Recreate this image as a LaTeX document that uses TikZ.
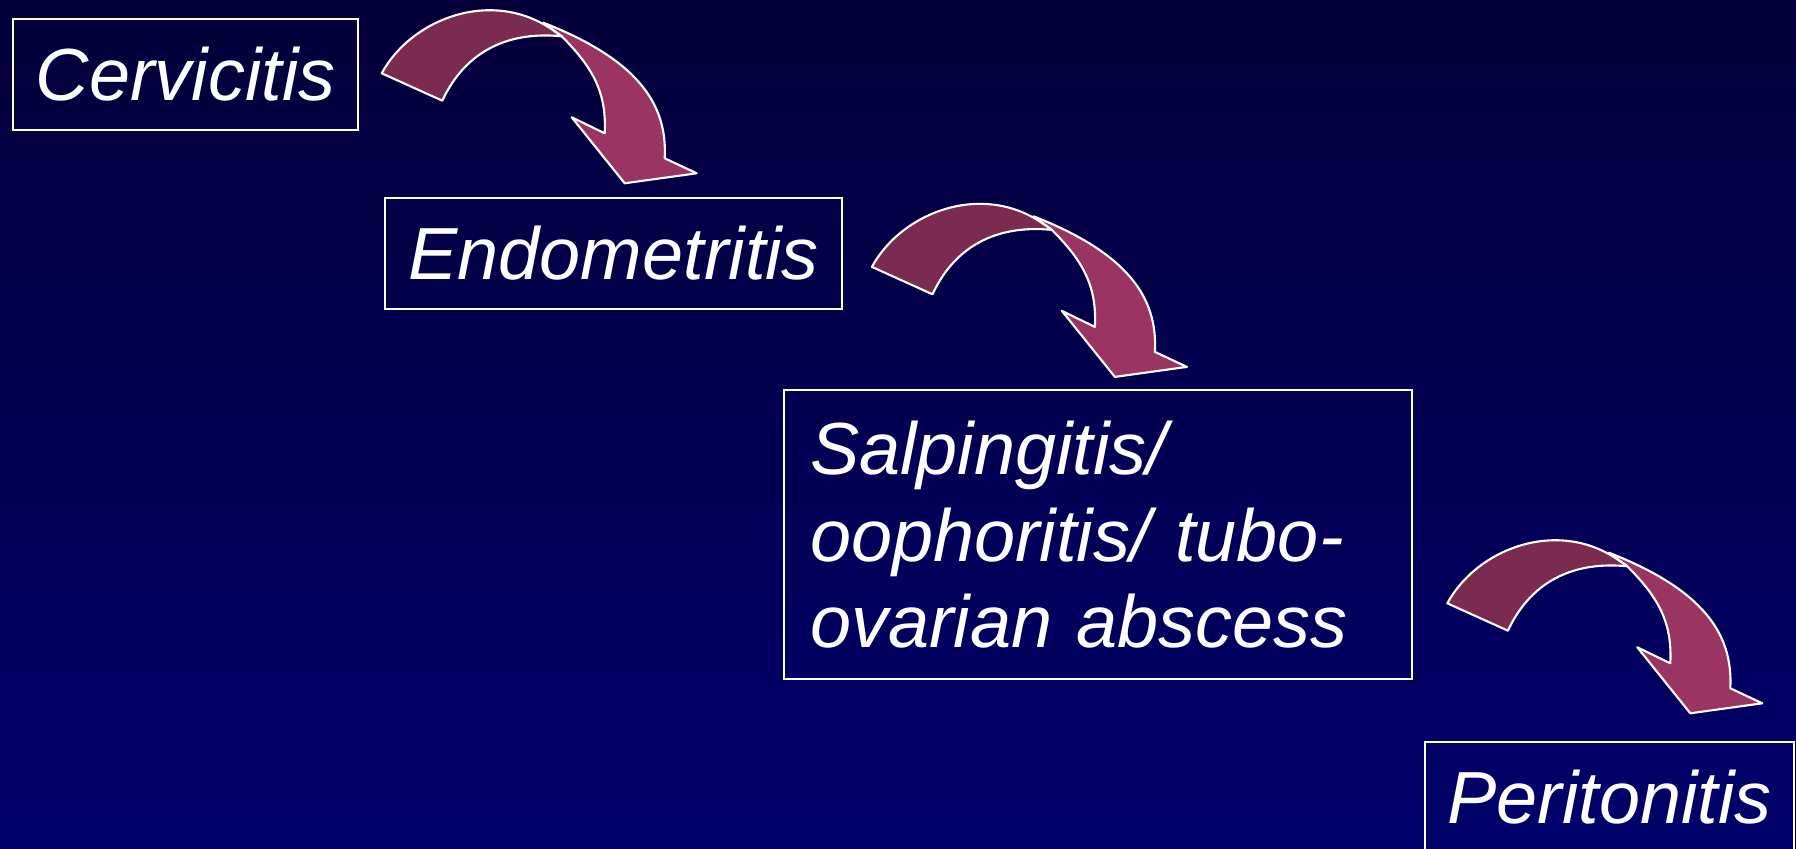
\documentclass[tikz,border=0pt]{standalone}
\usepackage{fontspec}
\setmainfont{Liberation Sans}
\usetikzlibrary{positioning}

\definecolor{slidetop}{RGB}{5,0,58}
\definecolor{slidebottom}{RGB}{0,0,106}
\definecolor{arrowdark}{RGB}{123,42,80}
\definecolor{arrowlight}{RGB}{154,52,98}

\tikzset{
  pics/bentarrow/.style={code={
    % head part first, the tail part lies over it
    \draw[arrowfront] (161.6,-50.6) .. controls (255,-14) and (286,30) .. (283,85)
      -- (315,100) -- (243,110) -- (190,44) -- (223,60)
      .. controls (225,20) and (212,-5) .. (180,-37) -- cycle;
    \draw[arrowback] (0,0) .. controls (30,-55) and (110,-85) .. (170,-44)
      -- (180,-37) .. controls (130,-42) and (85,-25) .. (60.6,27.4) -- cycle;
  }}
}

\begin{document}
\begin{tikzpicture}[
    x=0.01cm, y=-0.01cm,
    every node/.style={font=\fontsize{21}{24.5}\selectfont\itshape, text=white},
    stagebox/.style={draw=white, line width=0.6pt, rectangle, anchor=north west,
      inner sep=0pt, minimum height=1.11cm},
    arrowfront/.style={fill=arrowlight, draw=white, line width=0.6pt, line join=round},
    arrowback/.style={fill=arrowdark, draw=white, line width=0.6pt, line join=round}
  ]
  \path[use as bounding box] (0,0) rectangle (1796,849);
  \clip (0,0) rectangle (1796,849);
  \shade[top color=slidetop, bottom color=slidebottom] (0,0) rectangle (1796,849);

  \node[stagebox, minimum width=3.45cm] (cerv) at (12,18) {Cervicitis};
  \node[stagebox, minimum width=4.57cm] (endo) at (384,197) {Endometritis};
  \node[stagebox, minimum height=2.89cm, inner xsep=0.26cm, text width=5.76cm, align=left]
    (salp) at (783,389) {Salpingitis/\\ oophoritis/ tubo-\\ ovarian abscess};
  \node[stagebox, minimum width=3.69cm] (peri) at (1424,741) {Peritonitis};

  % bent arrows between the stages
  \pic (cerv2endo) at (381.7,73.3) {bentarrow};
  \pic (endo2salp) at (871.9,266.9) {bentarrow};
  \pic (salp2peri) at (1447.3,603.3) {bentarrow};
\end{tikzpicture}
\end{document}
